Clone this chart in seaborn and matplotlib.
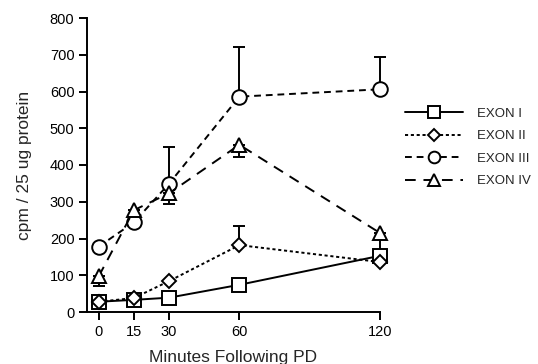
import numpy as np
import pandas as pd
import matplotlib
matplotlib.use('Agg')
import matplotlib.pyplot as plt
import seaborn as sns

# data
minutes = [0, 15, 30, 60, 120]
exon_1 = [28, 33, 39, 74, 153]
exon_2 = [28, 38, 84, 182, 136]
exon_3 = [178, 244, 349, 586, 606]
exon_4 = [97, 277, 323, 455, 215]

# error bars (one-sided in the original)
exon_2_up = [0, 0, 0, 51, 0]
exon_3_up = [0, 0, 101, 134, 89]
exon_4_down = [27, 0, 29, 32, 60]

labels = ['EXON I', 'EXON II', 'EXON III', 'EXON IV']

df = pd.DataFrame({
    'minutes': minutes * 4,
    'cpm': exon_1 + exon_2 + exon_3 + exon_4,
    'exon': np.repeat(labels, len(minutes)),
})

sns.set_style('ticks')
plt.rcParams['font.family'] = ['Liberation Sans', 'DejaVu Sans']

fig = plt.figure(figsize=(5.38, 3.64), dpi=100)
ax = fig.add_axes([87 / 538, 1 - 312 / 364, 293 / 538, 294 / 364])

# error bars first so markers sit on top
zeros = [0] * 5
for vals, err in [(exon_2, [zeros, exon_2_up]), (exon_3, [zeros, exon_3_up]),
                  (exon_4, [exon_4_down, zeros])]:
    eb = ax.errorbar(minutes, vals, yerr=err, fmt='none', ecolor='black',
                     elinewidth=1.4, capsize=4, capthick=1.4, zorder=1)
    for art in eb.lines[1] + eb.lines[2]:
        art.set_clip_on(False)

styles = {
    'EXON I': dict(marker='s', ms=10.5, dashes=''),
    'EXON II': dict(marker='D', ms=7.5, dashes=(1.6, 1.4)),
    'EXON III': dict(marker='o', ms=10.5, dashes=(3.5, 2.5)),
    'EXON IV': dict(marker='^', ms=10.5, dashes=(5.5, 4)),
}

for name in labels:
    sub = df[df['exon'] == name]
    st = styles[name]
    sns.lineplot(data=sub, x='minutes', y='cpm', ax=ax, color='black', lw=1.4,
                 marker=st['marker'], markersize=st['ms'], markerfacecolor='white',
                 markeredgecolor='black', markeredgewidth=1.4, label=name, zorder=3)
    line = ax.lines[-1]
    line.set_clip_on(False)
    if st['dashes']:
        line.set_dashes(st['dashes'])

ax.set_xlim(-5, 120)
ax.set_ylim(0, 800)
ax.set_xticks(minutes)
ax.set_yticks(range(0, 801, 100))
ax.tick_params(direction='out', length=6, width=1.4, labelsize=10.5, colors='black', pad=3)
for s in ['left', 'bottom']:
    ax.spines[s].set_linewidth(1.4)
    ax.spines[s].set_color('black')
sns.despine(ax=ax)

ax.set_xlabel('Minutes Following PD', fontsize=12.5, labelpad=8)
ax.set_ylabel('cpm / 25 ug protein', fontsize=12.5, labelpad=13)

ax.legend(loc='upper left', bbox_to_anchor=(398 / 538, 1 - 101 / 364),
          bbox_transform=fig.transFigure, frameon=False, fontsize=9.5,
          handlelength=4.4, handletextpad=1.1, labelspacing=0.78,
          borderpad=0, numpoints=1, markerscale=0.8)

fig.savefig('out.png', dpi=100)
